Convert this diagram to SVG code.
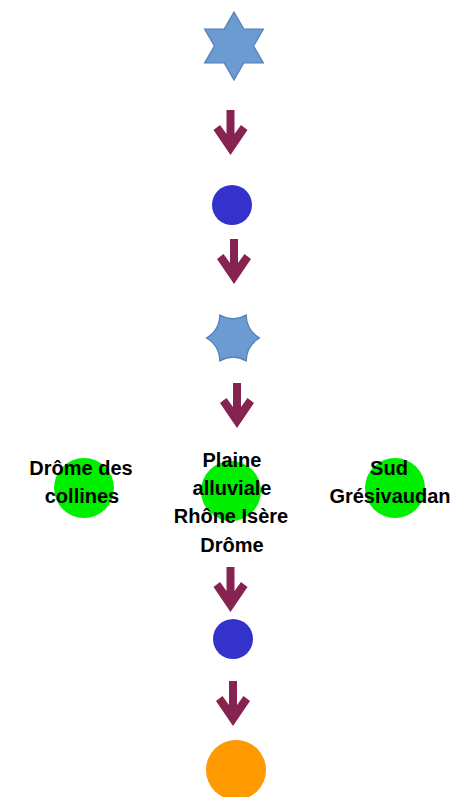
<svg xmlns="http://www.w3.org/2000/svg" width="455" height="797" viewBox="0 0 455 797">
<defs>
<style>
.star{fill:#6c9bd2;stroke:#4f7fb8;stroke-width:1.2}
.blue{fill:#3333cc}
.green{fill:#00ee00}
.orange{fill:#ff9900}
.lbl{font-family:"Liberation Sans",Arial,sans-serif;font-weight:bold;font-size:20px;fill:#000;text-anchor:middle}
.arrow{fill:#872350}
</style>
<path id="arr" d="M0,45 L-17,20 L-10.5,15 L-4,24 L-4,0 L4,0 L4,24 L10.5,15 L17,20 Z"/>
</defs>
<rect width="455" height="797" fill="#fff"/>
<g id="connectors" class="arrow">
<use href="#arr" x="230.5" y="110"/>
<use href="#arr" x="234" y="239"/>
<use href="#arr" x="237" y="383"/>
<use href="#arr" x="230.5" y="567"/>
<use href="#arr" x="233" y="681"/>
</g>
<g id="star1">
<polygon class="star" points="234,12 243.8,29 263.4,29 253.6,46 263.4,63 243.8,63 234,80 224.2,63 204.6,63 214.4,46 204.6,29 224.2,29"/>
</g>
<g id="circle1"><circle class="blue" cx="232" cy="205" r="20"/></g>
<g id="star2">
<path class="star" d="M259.5,338 Q246.4,330.25 246.25,315.05 Q233,322.5 219.75,315.05 Q219.6,330.25 206.5,338 Q219.6,345.75 219.75,360.95 Q233,353.5 246.25,360.95 Q246.4,345.75 259.5,338 Z"/>
</g>
<g id="drome-collines">
<circle class="green" cx="84" cy="488" r="30"/>
<text class="lbl" x="81" y="475">Drôme des</text>
<text class="lbl" x="82" y="503">collines</text>
</g>
<g id="plaine">
<circle class="green" cx="231" cy="491" r="30"/>
<text class="lbl" x="232" y="467">Plaine</text>
<text class="lbl" x="232" y="495">alluviale</text>
<text class="lbl" x="231" y="523">Rhône Isère</text>
<text class="lbl" x="232" y="552">Drôme</text>
</g>
<g id="sud-gresivaudan">
<circle class="green" cx="395" cy="488" r="30"/>
<text class="lbl" x="389" y="475">Sud</text>
<text class="lbl" x="390" y="503">Grésivaudan</text>
</g>
<g id="circle2"><circle class="blue" cx="233" cy="639" r="20"/></g>
<g id="circle3"><circle class="orange" cx="236" cy="770" r="30"/></g>
</svg>
